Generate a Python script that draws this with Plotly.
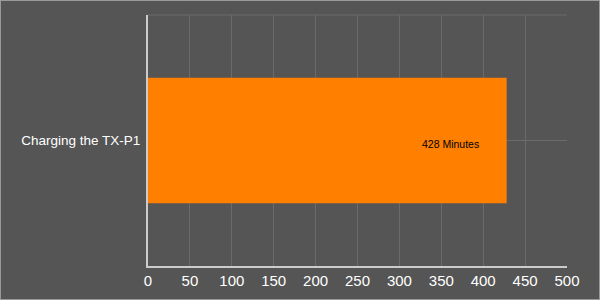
import plotly.graph_objects as go

categories = ["Charging the TX-P1"]
values = [428]
labels = ["428 Minutes"]
tick_vals = [0, 50, 100, 150, 200, 250, 300, 350, 400, 450, 500]

BG = "#555555"
GRID = "#6b6b6b"
FONT = "Liberation Sans, Arial, sans-serif"

fig = go.Figure()
fig.add_trace(go.Bar(
    y=categories, x=values, orientation="h",
    marker=dict(color="#FF8000", line=dict(width=0)),
    width=0.5, hoverinfo="skip",
))

for v, lab in zip(values, labels):
    fig.add_annotation(x=v, y=categories[0], text=lab, showarrow=False,
                       xanchor="right", xshift=-26, yshift=-3,
                       font=dict(family=FONT, size=10.5, color="#000000"))

fig.update_layout(
    width=600, height=300,
    margin=dict(l=148, r=33, t=15, b=34, autoexpand=False),
    paper_bgcolor=BG, plot_bgcolor=BG,
    showlegend=False,
    font=dict(family=FONT, color="#ffffff"),
    xaxis=dict(range=[0, 500], tickvals=tick_vals, showgrid=True, gridcolor=GRID,
               gridwidth=1, zeroline=False, showline=True, linecolor="#cccccc",
               linewidth=2, tickfont=dict(size=15, color="#ffffff"), ticks="",
               automargin=False, fixedrange=True),
    yaxis=dict(showgrid=True, gridcolor=GRID, zeroline=False, showline=True,
               linecolor="#cccccc", linewidth=2, ticks="", ticklabelstandoff=3,
               automargin=False,
               tickfont=dict(size=13.5, color="#ffffff"), fixedrange=True),
    shapes=[
        dict(type="line", xref="paper", yref="paper", x0=0, x1=1, y0=1, y1=1,
             line=dict(color=GRID, width=1)),
        dict(type="rect", xref="paper", yref="paper", x0=-148/419, x1=1+33/419,
             y0=-34/251, y1=1+15/251, line=dict(color="#999999", width=2)),
    ],
)

fig.write_html("out.html")
